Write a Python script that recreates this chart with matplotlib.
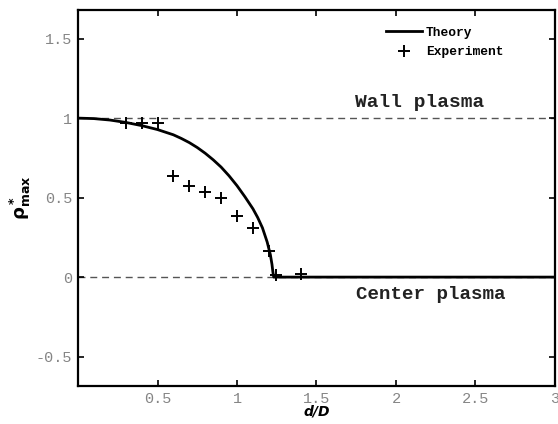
import numpy as np
import matplotlib
matplotlib.use("Agg")
import matplotlib.pyplot as plt

# theory curve
theory_x = [0.0, 0.1, 0.2, 0.3, 0.4, 0.5, 0.6, 0.65, 0.7, 0.75, 0.8, 0.85,
            0.9, 0.95, 1.0, 1.05, 1.1, 1.13, 1.16, 1.19, 1.21, 1.22, 1.226,
            1.231, 3.0]
theory_y = [1.0, 0.997, 0.988, 0.973, 0.953, 0.928, 0.895, 0.872, 0.846,
            0.815, 0.779, 0.738, 0.692, 0.637, 0.575, 0.505, 0.43, 0.375,
            0.31, 0.22, 0.14, 0.08, 0.03, 0.0, 0.0]

# experimental points
exp_x = [0.3, 0.4, 0.5, 0.6, 0.7, 0.8, 0.9, 1.0, 1.1, 1.2, 1.245, 1.4]
exp_y = [0.968, 0.968, 0.972, 0.637, 0.574, 0.538, 0.497, 0.387, 0.308, 0.167, 0.015, 0.02]

xticks = [0.5, 1, 1.5, 2, 2.5, 3]
xticklabels = ["0.5", "1", "1.5", "2", "2.5", "3"]
yticks = [-0.5, 0, 0.5, 1, 1.5]
yticklabels = ["-0.5", "0", "0.5", "1", "1.5"]

mono = "Liberation Mono"

fig = plt.figure(figsize=(5.58, 4.24), dpi=100)
ax = fig.add_axes([0.1398, 0.0896, 0.8548, 0.8868])

# reference levels
ax.axhline(1, color="#555555", lw=1.0, ls=(0, (5, 3.5)), zorder=1)
ax.axhline(0, color="#555555", lw=1.0, ls=(0, (5, 3.5)), zorder=1)

ax.plot(theory_x, theory_y, color="k", lw=2.0, label="Theory", zorder=3)
ax.plot(exp_x, exp_y, ls="none", marker="+", ms=9, mew=1.4, color="k",
        label="Experiment", zorder=4)

ax.text(2.15, 1.1, "Wall plasma", family=mono, fontweight="bold",
        fontsize=14, ha="center", va="center", color="#222222")
ax.text(2.22, -0.11, "Center plasma", family=mono, fontweight="bold",
        fontsize=13.8, ha="center", va="center", color="#222222")

ax.set_xlim(0, 3)
ax.set_ylim(-0.685, 1.68)
ax.set_xticks(xticks)
ax.set_xticklabels(xticklabels)
ax.set_yticks(yticks)
ax.set_yticklabels(yticklabels)
ax.tick_params(direction="in", top=True, right=True, length=4, width=1.2,
               labelsize=11, labelcolor="#858585", pad=4)
for lab in ax.get_xticklabels() + ax.get_yticklabels():
    lab.set_family(mono)
for sp in ax.spines.values():
    sp.set_linewidth(1.6)

ax.set_xlabel("d/D", fontstyle="italic", fontweight="bold", fontsize=10, labelpad=-1)
ax.set_ylabel(r"$\mathbf{\rho^*_{max}}$", fontsize=13, labelpad=2)

leg = ax.legend(loc="upper left", bbox_to_anchor=(0.645, 0.955), frameon=False,
                borderaxespad=0, borderpad=0,
                prop={"family": mono, "weight": "bold", "size": 9.3},
                handlelength=2.8, handletextpad=0.3, labelspacing=0.55)

fig.savefig("out.png", dpi=100)
